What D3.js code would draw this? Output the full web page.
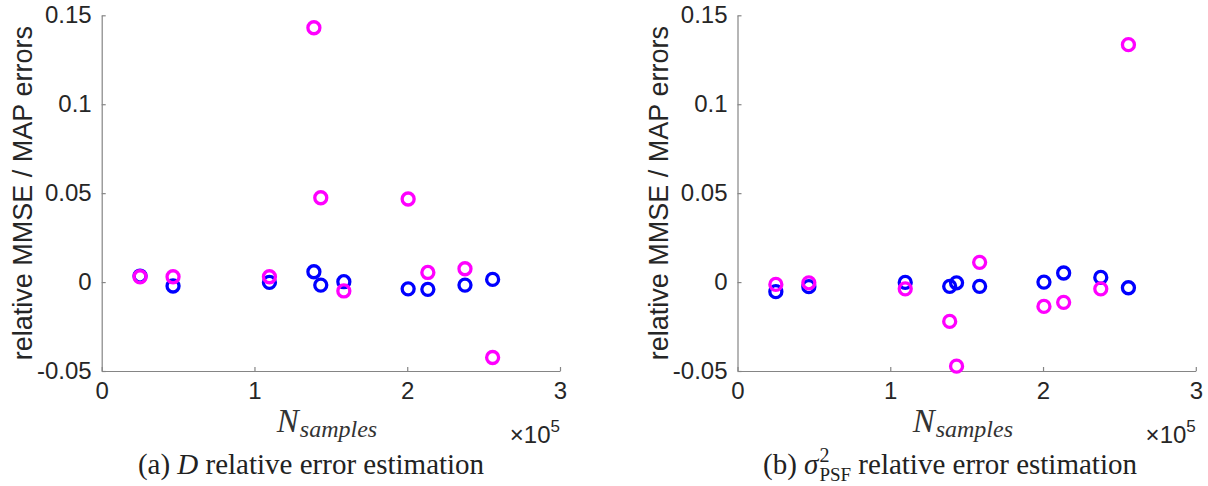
<!DOCTYPE html>
<html>
<head>
<meta charset="utf-8">
<script src="https://cdn.jsdelivr.net/npm/d3@7/dist/d3.min.js"></script>
<style>
  html, body { margin: 0; padding: 0; background: #fff; }
  svg { display: block; }
  .tick text { font-family: "Liberation Sans", Arial, Helvetica, sans-serif; fill: #262626; }
</style>
</head>
<body>
<svg id="chart" width="1208" height="486"></svg>
<script>
// ---- data (N_samples, relative errors) ----
const nSamples = [25100, 46700, 109800, 138900, 143400, 158500, 200600, 213500, 237800, 255900];

// panel (a): D relative error
const dBlue    = [0.0034, -0.0022, -0.0002, 0.0058, -0.0017, 0.0002, -0.0038, -0.0041, -0.0017, 0.0015];
const dMagenta = [0.0030, 0.0030, 0.0030, 0.1430, 0.0474, -0.0050, 0.0467, 0.0054, 0.0075, -0.0424];

// panel (b): sigma^2_PSF relative error
const psfBlue    = [-0.0054, -0.0026, -0.0002, -0.0024, -0.0004, -0.0024, 0.0000, 0.0051, 0.0026, -0.0032];
const psfMagenta = [-0.0013, -0.0004, -0.0038, -0.0221, -0.0473, 0.0111, -0.0137, -0.0114, -0.0038, 0.1335];

const xTicks = [0, 100000, 200000, 300000];
const xTickLabels = ["0", "1", "2", "3"];
const yTicks = [-0.05, 0, 0.05, 0.1, 0.15];
const yTickLabels = ["-0.05", "0", "0.05", "0.1", "0.15"];

const yLabelText = "relative MMSE / MAP errors";
const seriesColors = ["#0000ff", "#ff00ff"];

// ---- layout ----
const svg = d3.select("#chart");
const axTop = 15.3, axBottom = 371, axWidth = 458.3;
const panels = [
  { x0: 101.7, blue: dBlue, magenta: dMagenta, capX: 311, cap: "a" },
  { x0: 737.5, blue: psfBlue, magenta: psfMagenta, capX: 950, cap: "b" }
];

const y = d3.scaleLinear().domain([-0.05, 0.15]).range([axBottom, axTop]);

panels.forEach(p => {
  const x = d3.scaleLinear().domain([0, 300000]).range([p.x0, p.x0 + axWidth]);
  const g = svg.append("g");

  // axes
  const xAxis = d3.axisBottom(x).tickValues(xTicks)
    .tickFormat((d, i) => xTickLabels[i]).tickSizeInner(-4).tickSizeOuter(0).tickPadding(11);
  const yAxis = d3.axisLeft(y).tickValues(yTicks)
    .tickFormat((d, i) => yTickLabels[i]).tickSizeInner(-4).tickSizeOuter(0).tickPadding(10);

  const gx = g.append("g").attr("transform", `translate(0,${axBottom})`).call(xAxis);
  const gy = g.append("g").attr("transform", `translate(${p.x0},0)`).call(yAxis);
  [gx, gy].forEach(a => {
    a.select(".domain").attr("stroke", "#858585").attr("stroke-width", 1.2);
    a.selectAll(".tick line").attr("stroke", "#858585").attr("stroke-width", 1.2);
    a.selectAll(".tick text").attr("font-size", 24).attr("fill", "#262626");
  });
  gx.selectAll(".tick text").attr("dy", "0.71em");

  // y label
  g.append("text")
    .attr("transform", `translate(${p.x0 - 70},${(axTop + axBottom) / 2}) rotate(-90)`)
    .attr("text-anchor", "middle")
    .attr("font-family", "Liberation Sans, Arial, sans-serif")
    .attr("font-size", 27)
    .attr("fill", "#262626")
    .text(yLabelText);

  // x label N_samples
  const xl = g.append("text")
    .attr("x", p.x0 + axWidth / 2 - 54)
    .attr("y", 432)
    .attr("font-family", "Liberation Serif, Times New Roman, serif")
    .attr("font-style", "italic")
    .attr("fill", "#333")
    .attr("font-size", 33);
  xl.append("tspan").text("N");
  xl.append("tspan").attr("font-size", 24).attr("dx", 1).attr("dy", 5).text("samples");

  // exponent x10^5
  const ex = g.append("text")
    .attr("x", p.x0 + axWidth)
    .attr("y", 443)
    .attr("text-anchor", "end")
    .attr("font-family", "Liberation Sans, Arial, sans-serif")
    .attr("fill", "#262626")
    .attr("font-size", 24);
  ex.append("tspan").text("\u00d710");
  ex.append("tspan").attr("font-size", 17).attr("dy", -11).text("5");

  // points: blue first, magenta on top
  [p.blue, p.magenta].forEach((vals, si) => {
    g.append("g").selectAll("circle").data(vals).join("circle")
      .attr("cx", (d, i) => x(nSamples[i]))
      .attr("cy", d => y(d))
      .attr("r", 6)
      .attr("fill", "none")
      .attr("stroke", seriesColors[si])
      .attr("stroke-width", 3.3);
  });

  // caption
  const cap = g.append("text")
    .attr("x", p.capX)
    .attr("y", 474)
    .attr("text-anchor", "middle")
    .attr("font-family", "Liberation Serif, Times New Roman, serif")
    .attr("fill", "#222")
    .attr("font-size", 29);
  if (p.cap === "a") {
    cap.append("tspan").text("(a) ");
    cap.append("tspan").attr("font-style", "italic").text("D");
    cap.append("tspan").text(" relative error estimation");
  } else {
    cap.append("tspan").text("(b) ");
    cap.append("tspan").attr("font-style", "italic").text("\u03c3");
    cap.append("tspan").attr("font-size", 20).attr("dx", 1).attr("dy", -12).text("2");
    cap.append("tspan").attr("font-size", 19).attr("dx", -10).attr("dy", 19).text("PSF");
    cap.append("tspan").attr("dy", -7).text(" relative error estimation");
  }
});
</script>
</body>
</html>
